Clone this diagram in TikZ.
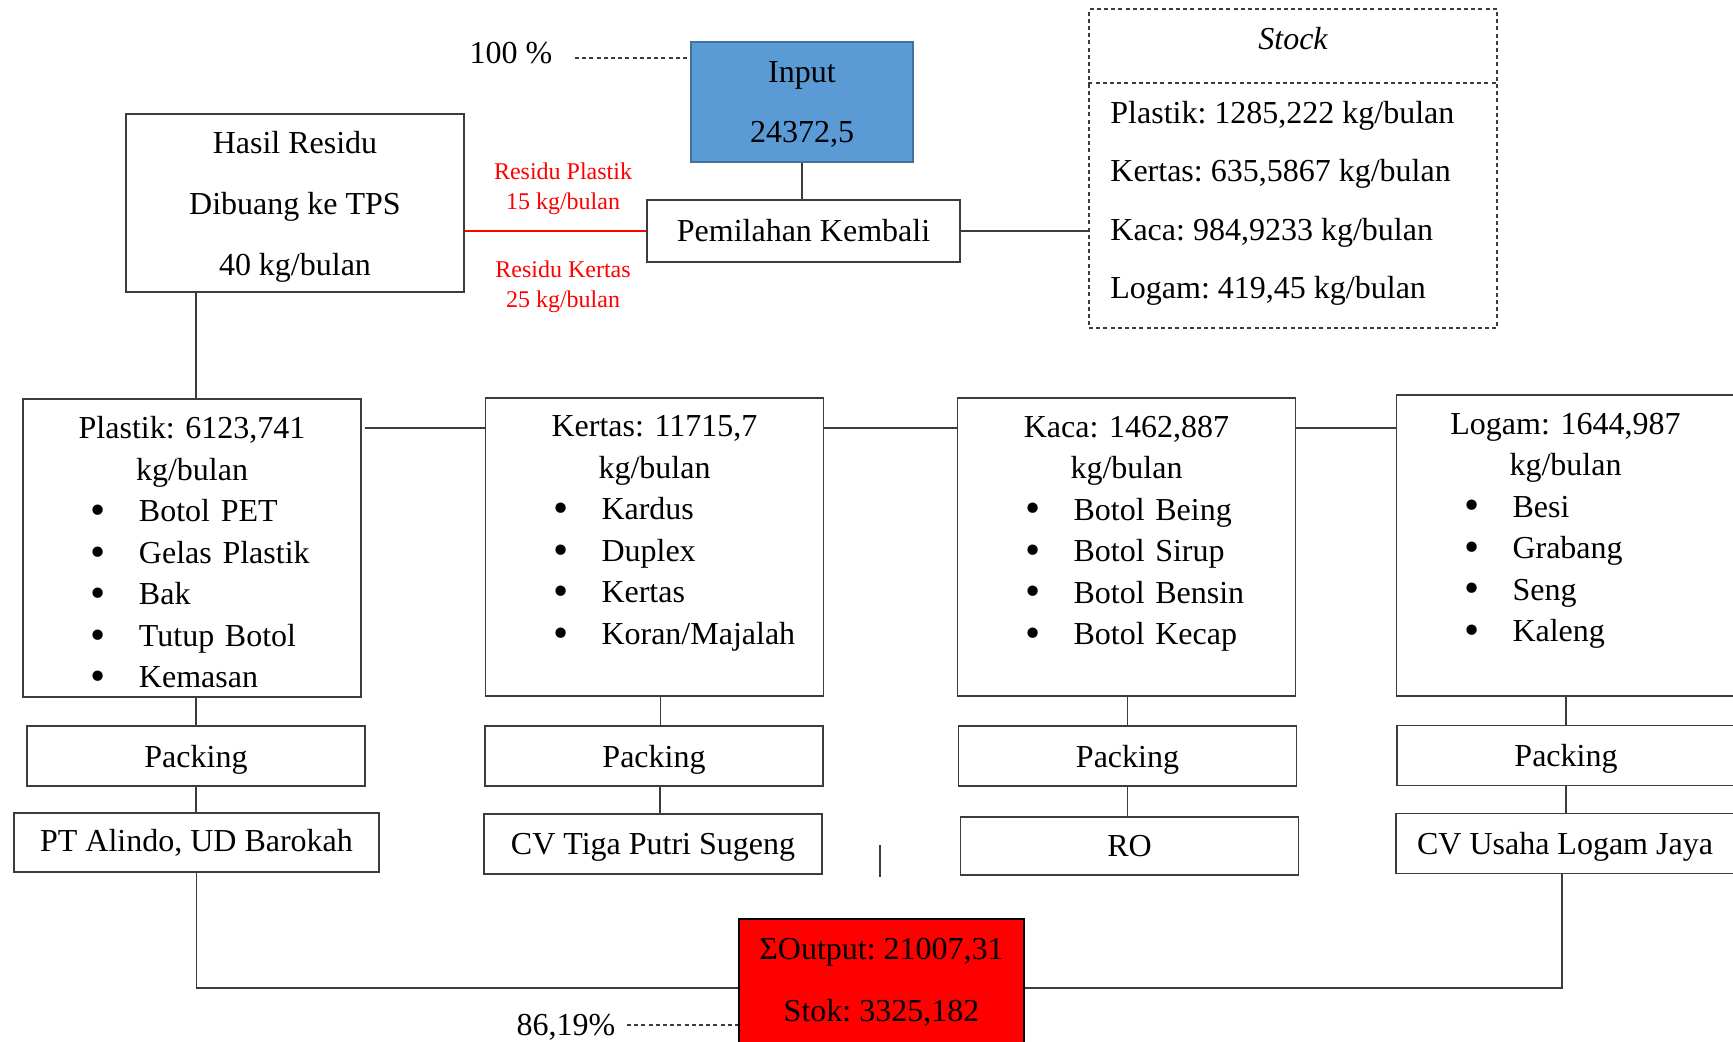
\documentclass[tikz,border=0pt]{standalone}
\usepackage{fontspec}
\setmainfont{Liberation Serif}
\usetikzlibrary{positioning}
\definecolor{wsLine}{RGB}{60,60,60}
\definecolor{wsBlue}{RGB}{91,155,213}
\definecolor{wsBlueDark}{RGB}{65,113,156}
\definecolor{wsRed}{RGB}{255,0,0}
\frenchspacing
\newcommand{\bul}[1]{\par\noindent\hspace*{34pt}\makebox[24pt][l]{\raisebox{-1.4pt}{\scalebox{1.35}{\textbullet}}}#1}

\tikzset{
  every node/.style={font=\fontsize{16}{19}\selectfont},
  box/.style={draw=wsLine, line width=0.65pt, inner sep=0pt, align=center},
  catbox/.style={box, minimum width=169pt, minimum height=149pt},
  packbox/.style={box, minimum width=169pt, minimum height=30pt, text depth=0pt},
  listtext/.style={text width=169pt, inner sep=0pt, align=left, font=\fontsize{16}{20.75}\selectfont},
  link/.style={draw=wsLine, line width=0.65pt},
  dashlink/.style={draw=wsLine, line width=0.65pt, dash pattern=on 2pt off 1.6pt},
  redlabel/.style={text=wsRed, align=center, font=\fontsize{12}{15}\selectfont}
}

\begin{document}
\begin{tikzpicture}[x=0.5pt, y=-0.5pt]
  \useasboundingbox (0,0) rectangle (1733,1042);

  % Input dan pemilahan
  \node[box, draw=wsBlueDark, fill=wsBlue, line width=1pt, minimum width=111pt, minimum height=60pt, text depth=0pt, font=\fontsize{16}{30}\selectfont] (input) at (802,102) {Input\\24372,5};
  \node[box, minimum width=156.5pt, minimum height=31pt] (pilah) at (803.5,231) {Pemilahan Kembali};
  \node (pctin) at (511,53) {100 \%};
  \coordinate (pctin end) at (575,58);
  \draw[dashlink] (pctin end) -- (pctin end -| input.west);
  \draw[link] (input.south) -- (input.south |- pilah.north);

  % Residu
  \node[box, minimum width=169pt, minimum height=89pt, text depth=0pt, font=\fontsize{16}{30.5}\selectfont] (residu) at (295,203) {Hasil Residu\\Dibuang ke TPS\\40 kg/bulan};
  \draw[wsRed, line width=0.65pt] (pilah.west) -- (pilah.west -| residu.east);
  \node[redlabel] (resplastik) at (563,188.5) {Residu Plastik\\15 kg/bulan};
  \node[redlabel] (reskertas) at (563,287) {Residu Kertas\\25 kg/bulan};

  % Stock
  \node[box, dashlink, minimum width=204pt, minimum height=159.5pt] (stock) at (1293,168.5) {};
  \coordinate (stock div) at (1293,83);
  \draw[dashlink] (stock div -| stock.west) -- (stock div -| stock.east);
  \node[font=\itshape\fontsize{16}{19}\selectfont] (stocktitle) at (1293,39) {Stock};
  \node[anchor=north west, inner sep=0pt, align=left, font=\fontsize{16}{29.2}\selectfont] (stocklist) at (1110,101) {Plastik: 1285,222 kg/bulan\\Kertas: 635,5867 kg/bulan\\Kaca: 984,9233 kg/bulan\\Logam: 419,45 kg/bulan};
  \draw[link] (pilah.east) -- (pilah.east -| stock.west);

  % Kategori
  \node[catbox] (plastik) at (192,548) {};
  \node[catbox] (kertas) at (654.5,547) {};
  \node[catbox] (kaca) at (1126.5,547) {};
  \node[catbox, minimum height=150.5pt] (logam) at (1565.5,545.5) {};
  \node[listtext, below=9pt of plastik.north] (plastik txt) {{\centering Plastik: 6123,741\\kg/bulan\par}\bul{Botol PET}\bul{Gelas Plastik}\bul{Bak}\bul{Tutup Botol}\bul{Kemasan}};
  \node[listtext, below=9pt of kertas.north] (kertas txt) {{\centering Kertas: 11715,7\\kg/bulan\par}\bul{Kardus}\bul{Duplex}\bul{Kertas}\bul{Koran/Majalah}};
  \node[listtext, below=9pt of kaca.north] (kaca txt) {{\centering Kaca: 1462,887\\kg/bulan\par}\bul{Botol Being}\bul{Botol Sirup}\bul{Botol Bensin}\bul{Botol Kecap}};
  \node[listtext, below=9pt of logam.north] (logam txt) {{\centering Logam: 1644,987\\kg/bulan\par}\bul{Besi}\bul{Grabang}\bul{Seng}\bul{Kaleng}};
  \draw[link] (residu.south -| plastik.north) ++(2pt,0) -- ([xshift=2pt]plastik.north);
  \coordinate (cat row) at (0,428);
  \draw[link] ([xshift=1.5pt]plastik.east |- cat row) -- (kertas.west |- cat row);
  \draw[link] (kertas.east |- cat row) -- (kaca.west |- cat row);
  \draw[link] (kaca.east |- cat row) -- (logam.west |- cat row);

  % Packing
  \node[packbox] (pk plastik) at (196,756) {Packing};
  \node[packbox] (pk kertas) at (654,756) {Packing};
  \node[packbox] (pk kaca) at (1127.5,756) {Packing};
  \node[packbox] (pk logam) at (1566,755.5) {Packing};

  % Pembeli
  \node[box, minimum width=182.5pt, minimum height=29.5pt] (alindo) at (196.5,842.5) {PT Alindo, UD Barokah};
  \node[packbox] (tiga) at (653,844) {CV Tiga Putri Sugeng};
  \node[packbox, minimum height=29pt] (ro) at (1129.5,846) {RO};
  \node[packbox] (usaha) at (1565,843.5) {CV Usaha Logam Jaya};

  \draw[link] (plastik.south -| pk plastik.north) -- (pk plastik.north);
  \draw[link] (pk plastik.south) -- (pk plastik.south |- alindo.north);
  \draw[link] ([xshift=3pt]kertas.south) -- ([xshift=3pt]kertas.south |- pk kertas.north);
  \draw[link] ([xshift=3pt]pk kertas.south) -- ([xshift=3pt]pk kertas.south |- tiga.north);
  \draw[link] (kaca.south -| pk kaca.north) -- (pk kaca.north);
  \draw[link] (pk kaca.south) -- (pk kaca.south |- ro.north);
  \draw[link] (logam.south -| pk logam.north) -- (pk logam.north);
  \draw[link] (pk logam.south) -- (pk logam.south |- usaha.north);
  \draw[link] (880,845) -- (880,877);

  % Output
  \node[box, fill=wsRed, draw=black, minimum width=142.5pt, minimum height=70.5pt] (output) at (881.5,989.5) {};
  \node[font=\fontsize{16}{31}\selectfont, align=center] (output txt) at (881.5,982) {ΣOutput: 21007,31\\Stok: 3325,182};
  \coordinate (out row) at (0,988);
  \draw[link] (alindo.south) |- (output.west |- out row);
  \draw[link] ([xshift=-1.5pt]usaha.south) |- (output.east |- out row);
  \node (pctout) at (566,1027) {86,19\%};
  \coordinate (pctout end) at (627,1025);
  \draw[dashlink] (pctout end) -- (pctout end -| output.west);
\end{tikzpicture}
\end{document}
